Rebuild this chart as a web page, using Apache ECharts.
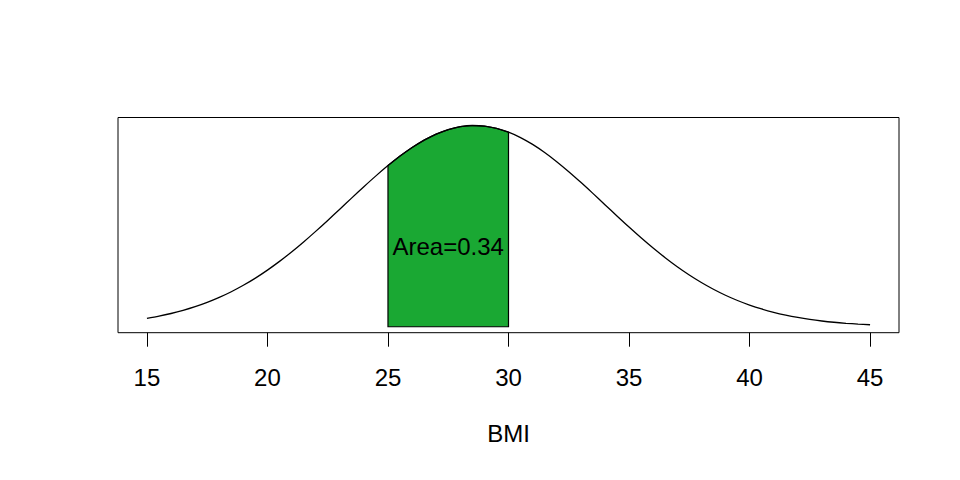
<!DOCTYPE html>
<html>
<head>
<meta charset="utf-8">
<script src="https://cdn.jsdelivr.net/npm/echarts@6/dist/echarts.min.js"></script>
<style>
  html, body { margin: 0; padding: 0; background: #fff; }
  #chart { width: 960px; height: 480px; }
</style>
</head>
<body>
<div id="chart"></div>
<script>
// curve (normal density over BMI), half-unit steps
var bmi = [15, 15.5, 16, 16.5, 17, 17.5, 18, 18.5, 19, 19.5, 20, 20.5, 21, 21.5, 22, 22.5,
           23, 23.5, 24, 24.5, 25, 25.5, 26, 26.5, 27, 27.5, 28, 28.5, 29, 29.5, 30,
           30.5, 31, 31.5, 32, 32.5, 33, 33.5, 34, 34.5, 35, 35.5, 36, 36.5, 37, 37.5,
           38, 38.5, 39, 39.5, 40, 40.5, 41, 41.5, 42, 42.5, 43, 43.5, 44, 44.5, 45];
var density = [0.00310, 0.00390, 0.00486, 0.00600, 0.00735, 0.00893, 0.01076, 0.01285,
               0.01521, 0.01786, 0.02079, 0.02399, 0.02744, 0.03113, 0.03501, 0.03903,
               0.04315, 0.04730, 0.05140, 0.05538, 0.05916, 0.06266, 0.06579, 0.06850,
               0.07071, 0.07236, 0.07343, 0.07387, 0.07368, 0.07286, 0.07144,
               0.06945, 0.06693, 0.06396, 0.06060, 0.05692, 0.05301, 0.04895, 0.04481,
               0.04067, 0.03660, 0.03266, 0.02889, 0.02534, 0.02203, 0.01900,
               0.01624, 0.01376, 0.01156, 0.00963, 0.00796, 0.00652, 0.00529, 0.00426,
               0.00340, 0.00269, 0.00211, 0.00164, 0.00127, 0.00097, 0.00073];
var shadeFrom = 25;
var shadeTo = 30;
var areaLabel = 'Area=0.34';
var labelPos = [27.5, 0.0294];
var tickValues = [15, 20, 25, 30, 35, 40, 45];

(function() {
  var font = 'Liberation Sans, Arial, Helvetica, sans-serif';
  var green = '#1aa833';

  var curve = bmi.map(function(x, i) { return [x, density[i]]; });
  var shade = curve.filter(function(p) { return p[0] >= shadeFrom && p[0] <= shadeTo; });

  var chart = echarts.init(document.getElementById('chart'), null, { renderer: 'svg' });
  chart.setOption({
    animation: false,
    backgroundColor: '#fff',
    grid: {
      left: 118, right: 61, top: 117.5, bottom: 147.3,
      show: true, borderColor: '#000', borderWidth: 1
    },
    xAxis: {
      type: 'value',
      min: 13.8,
      max: 46.2,
      name: 'BMI',
      nameLocation: 'middle',
      nameGap: 89,
      nameTextStyle: { color: '#000', fontSize: 24, fontFamily: font },
      axisLine: { show: false, onZero: false },
      splitLine: { show: false },
      axisTick: {
        show: true, length: 14, customValues: tickValues,
        lineStyle: { color: '#000', width: 1 }
      },
      axisLabel: {
        customValues: tickValues, margin: 33,
        color: '#000', fontSize: 24, fontFamily: font
      }
    },
    yAxis: {
      type: 'value',
      min: -0.00219,
      max: 0.07681,
      show: false,
      splitLine: { show: false }
    },
    series: [{
      type: 'line',
      data: curve,
      smooth: 0.3,
      symbol: 'none',
      silent: true,
      lineStyle: { color: '#000', width: 1.3 }
    }, {
      type: 'custom',
      silent: true,
      data: [labelPos],
      renderItem: function(params, api) {
        var pts = [api.coord([shadeFrom, 0])];
        shade.forEach(function(p) { pts.push(api.coord(p)); });
        pts.push(api.coord([shadeTo, 0]));
        var c = api.coord([api.value(0), api.value(1)]);
        return {
          type: 'group',
          children: [{
            type: 'polygon',
            shape: { points: pts },
            style: { fill: green, stroke: '#000', lineWidth: 1.2 }
          }, {
            type: 'text',
            style: {
              text: areaLabel, x: c[0], y: c[1],
              align: 'center', verticalAlign: 'middle',
              font: '24px ' + font, fill: '#000'
            }
          }]
        };
      }
    }]
  });
})();
</script>
</body>
</html>
